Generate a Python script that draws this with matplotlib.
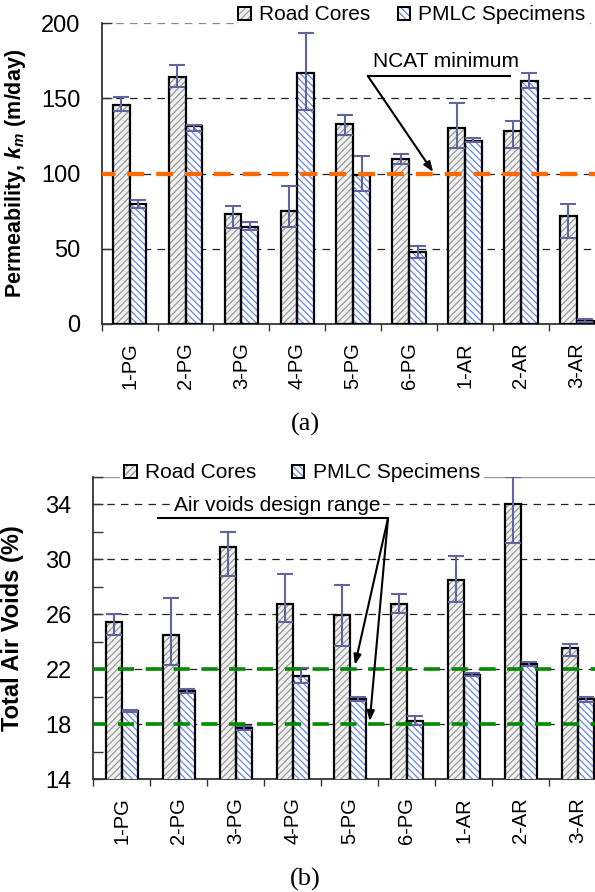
import matplotlib
matplotlib.use("Agg")
import matplotlib.pyplot as plt
from matplotlib.patches import Patch
from matplotlib.legend_handler import HandlerTuple
import numpy as np

plt.rcParams['font.family'] = ['Liberation Sans', 'DejaVu Sans']
plt.rcParams['mathtext.fontset'] = 'custom'
plt.rcParams['mathtext.it'] = 'Liberation Sans:italic:bold'
plt.rcParams['mathtext.rm'] = 'Liberation Sans:bold'
plt.rcParams['hatch.linewidth'] = 0.9

# ---------------- data ----------------
categories = ['1-PG', '2-PG', '3-PG', '4-PG', '5-PG', '6-PG', '1-AR', '2-AR', '3-AR']
series_names = ['Road Cores', 'PMLC Specimens']

perm_road = [145.7, 164.5, 73.0, 75.4, 132.8, 110.0, 130.2, 128.6, 71.8]
perm_road_lo = [4.0, 7.1, 9.4, 10.7, 7.1, 3.8, 13.4, 11.8, 14.8]
perm_road_hi = [5.1, 7.8, 5.5, 16.4, 6.2, 2.9, 17.0, 6.6, 8.0]
perm_pmlc = [79.6, 131.7, 64.7, 167.2, 99.0, 48.1, 122.0, 161.8, 2.2]
perm_pmlc_lo = [2.4, 3.1, 2.2, 24.9, 10.3, 4.4, 1.2, 5.0, 1.0]
perm_pmlc_hi = [2.9, 0.9, 2.9, 26.2, 12.7, 3.8, 1.5, 5.4, 1.0]
ncat_min = 100

av_road = [25.4, 24.5, 30.9, 26.7, 25.9, 26.75, 28.5, 34.0, 23.5]
av_road_lo = [0.9, 2.2, 2.1, 1.3, 2.2, 0.65, 1.65, 2.8, 0.55]
av_road_hi = [0.6, 2.7, 1.05, 2.2, 2.2, 0.7, 1.7, 2.0, 0.35]
av_pmlc = [18.95, 20.4, 17.7, 21.5, 19.8, 18.25, 21.6, 22.4, 19.8]
av_pmlc_lo = [0.1, 0.15, 0.15, 0.5, 0.15, 0.3, 0.1, 0.15, 0.2]
av_pmlc_hi = [0.1, 0.15, 0.15, 0.6, 0.15, 0.3, 0.1, 0.15, 0.2]
av_design = [18, 22]

# ---------------- style ----------------
ROAD_FACE, ROAD_HATCH = '#f1f1f1', '#9a9a9a'
PMLC_FACE, PMLC_HATCH = '#ffffff', '#6486ec'
ROAD_H, PMLC_H = '/////', '\\\\\\\\\\'
ERR_C = '#62649e'
AX_C = '#333333'

W, H = 595, 892
fig = plt.figure(figsize=(W / 100, H / 100), dpi=100)


def px_axes(left, right, top, bottom):
    return fig.add_axes([left / W, 1 - bottom / H, (right - left) / W, (bottom - top) / H])


def draw_bars(ax, road, rlo, rhi, pm, plo, phi, width):
    x = np.arange(len(categories))
    for off, vals, face, hc, hatch, lo, hi in [(-width / 2, road, ROAD_FACE, ROAD_HATCH, ROAD_H, rlo, rhi),
                                                (width / 2, pm, PMLC_FACE, PMLC_HATCH, PMLC_H, plo, phi)]:
        ax.bar(x + off, vals, width, color=face, edgecolor=hc, hatch=hatch, linewidth=0, zorder=3)
        ax.bar(x + off, vals, width, color='none', edgecolor='black', linewidth=1.6, zorder=4)
        ax.errorbar(x + off, vals, yerr=[lo, hi], fmt='none', ecolor=ERR_C, elinewidth=1.5,
                    capsize=6, capthick=1.5, zorder=5)
    ax.set_xlim(-0.5, len(categories) - 0.5)
    ax.set_xticks(x)
    ax.set_xticklabels(categories, rotation=90, fontsize=14.5)
    ax.set_xticks(np.arange(len(categories) + 1) - 0.5, minor=True)
    ax.tick_params(axis='x', which='major', length=0, pad=13)
    ax.tick_params(axis='x', which='minor', length=5, direction='out', color=AX_C, width=1)
    ax.tick_params(axis='y', which='both', direction='in', length=7, width=1, color=AX_C,
                   labelsize=17, pad=15.5)
    for s in ['top', 'right']:
        ax.spines[s].set_visible(False)
    for s in ['left', 'bottom']:
        ax.spines[s].set_color(AX_C)
        ax.spines[s].set_linewidth(1.3)
    ax.set_facecolor('none')


def make_legend(center_xy, colspace):
    h1 = (Patch(facecolor=ROAD_FACE, edgecolor=ROAD_HATCH, hatch=ROAD_H, linewidth=0),
          Patch(facecolor='none', edgecolor='black', linewidth=1.4))
    h2 = (Patch(facecolor=PMLC_FACE, edgecolor=PMLC_HATCH, hatch=PMLC_H, linewidth=0),
          Patch(facecolor='none', edgecolor='black', linewidth=1.4))
    leg = fig.legend([h1, h2], series_names, handler_map={tuple: HandlerTuple(ndivide=1)},
                     loc='center', bbox_to_anchor=(center_xy[0] / W, 1 - center_xy[1] / H),
                     ncol=2, fontsize=15, frameon=True, framealpha=1, facecolor='white',
                     edgecolor='none', fancybox=False, handlelength=0.6, handleheight=0.6,
                     handletextpad=0.4, columnspacing=colspace, borderpad=0.2)
    leg.get_frame().set_linewidth(0)
    return leg


# ================= (a) permeability =================
ax1 = px_axes(101.7, 604.8, 23.3, 324)
for g in [50, 100, 150]:
    ax1.axhline(g, color='#222222', lw=0.9, ls=(0, (6, 5)), zorder=1)
ax1.axhline(200, color='#888888', lw=0.9, ls=(0, (6, 5)), zorder=1)
draw_bars(ax1, perm_road, perm_road_lo, perm_road_hi, perm_pmlc, perm_pmlc_lo, perm_pmlc_hi, 0.30)
ax1.axhline(ncat_min, color='#ff6a00', lw=3.1, ls=(0.8, (3.9, 2.8)), zorder=6)
ax1.set_ylim(0, 200)
ax1.set_yticks([0, 50, 100, 150, 200])
ax1.set_ylabel(r'Permeability, $k_m$ (m/day)', fontsize=15.5, fontweight='bold')
ax1.yaxis.set_label_coords(-(101.7 - 28) / 503.1, 0.5)

ax1.text(5.66, 174.3, 'NCAT minimum', ha='center', va='center', fontsize=15, zorder=7)
ax1.plot([4.26, 6.80], [165, 165], color='black', lw=1.5, clip_on=False, zorder=7)
ax1.annotate('', xy=(5.43, 101), xytext=(4.26, 165),
             arrowprops=dict(arrowstyle='-|>,head_length=0.6,head_width=0.22', color='black',
                             lw=1.5, shrinkA=0, shrinkB=0), zorder=7)
make_legend((412, 15), 1.3)
fig.text(305 / W, 1 - 424 / H, '(a)', ha='center', va='center', fontsize=19,
         family='Liberation Serif')

# ================= (b) air voids =================
ax2 = px_axes(93.3, 606.3, 476.7, 779)
for g in [18, 22, 26, 30, 34]:
    ax2.axhline(g, color='#222222', lw=0.9, ls=(0, (6, 5)), zorder=1)
ax2.axhline(36, color='#999999', lw=1.0, zorder=1)
draw_bars(ax2, av_road, av_road_lo, av_road_hi, av_pmlc, av_pmlc_lo, av_pmlc_hi, 0.28)
for g in av_design:
    ax2.axhline(g, color='#008a00', lw=2.6, ls=(0.8, (4.5, 3.2)), zorder=6)
ax2.set_ylim(14, 36)
ax2.set_yticks([14, 18, 22, 26, 30, 34])
ax2.set_yticks([16, 20, 24, 28, 32, 36], minor=True)
ax2.set_ylabel('Total Air Voids (%)', fontsize=17, fontweight='bold')
ax2.yaxis.set_label_coords(-(93.3 - 24) / 513.0, 0.5)

ax2.text(2.73, 33.9, 'Air voids design range', ha='center', va='center', fontsize=15, zorder=7,
         bbox=dict(facecolor='white', edgecolor='none', pad=2))
ax2.plot([0.64, 4.67], [32.96, 32.96], color='black', lw=1.5, clip_on=False, zorder=7)
for tip in [(4.09, 22.3), (4.35, 18.2)]:
    ax2.annotate('', xy=tip, xytext=(4.67, 32.96),
                 arrowprops=dict(arrowstyle='-|>,head_length=0.6,head_width=0.22', color='black',
                                 lw=1.5, shrinkA=0, shrinkB=0), zorder=7)
make_legend((302, 473), 1.7)
fig.text(305 / W, 1 - 879 / H, '(b)', ha='center', va='center', fontsize=19,
         family='Liberation Serif')

fig.savefig('out.png', dpi=100)
